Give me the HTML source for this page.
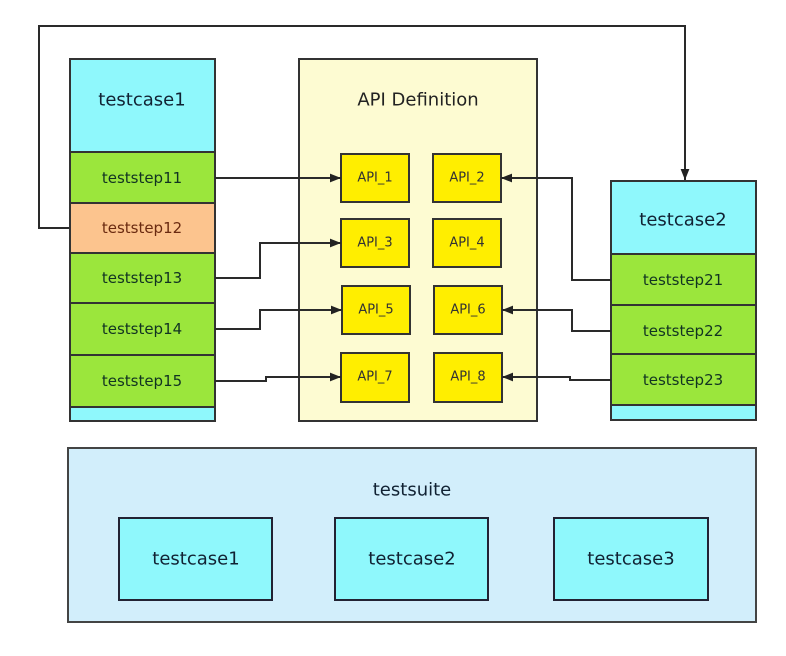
<!DOCTYPE html>
<html><head><meta charset="utf-8"><style>
html,body{margin:0;padding:0;background:#fff;width:786px;height:656px;overflow:hidden}
text{font-family:"DejaVu Sans","Liberation Sans",sans-serif;font-size:14px;text-anchor:middle;dominant-baseline:central}
</style></head><body>
<svg width="786" height="656" viewBox="0 0 786 656" xmlns="http://www.w3.org/2000/svg">
<defs><marker id="a" viewBox="0 0 10 10" refX="10" refY="5" markerWidth="13" markerHeight="11" orient="auto" markerUnits="userSpaceOnUse"><path d="M0,1 L10,5 L0,9 z" fill="#222"/></marker></defs>
<g stroke="#2a2a2a" stroke-width="2" fill="none">
<polyline points="70,228 39,228 39,26 685,26 685,180" marker-end="url(#a)"/>
</g>
<rect x="299" y="59" width="238" height="362" fill="#fdfbd2" stroke="#333" stroke-width="2"/>
<text x="418" y="100" style="font-size:18px" fill="#222">API Definition</text>
<g stroke="#333" stroke-width="2" fill="#ffee00">
<rect x="341" y="154" width="68" height="48"/><rect x="433" y="154" width="68" height="48"/>
<rect x="341" y="219" width="68" height="48"/><rect x="433" y="219" width="68" height="48"/>
<rect x="342" y="286" width="68" height="48"/><rect x="434" y="286" width="68" height="48"/>
<rect x="341" y="353" width="68" height="49"/><rect x="434" y="353" width="68" height="49"/>
</g>
<g fill="#333">
<text x="375" y="178" style="font-size:13px">API_1</text><text x="467" y="178" style="font-size:13px">API_2</text>
<text x="375" y="243" style="font-size:13px">API_3</text><text x="467" y="243" style="font-size:13px">API_4</text>
<text x="376" y="310" style="font-size:13px">API_5</text><text x="468" y="310" style="font-size:13px">API_6</text>
<text x="375" y="377" style="font-size:13px">API_7</text><text x="468" y="377" style="font-size:13px">API_8</text>
</g>
<g stroke="#333" stroke-width="2">
<rect x="70" y="59" width="145" height="362" fill="#8ff8fc"/>
<rect x="70" y="152" width="145" height="51" fill="#9be63c"/>
<rect x="70" y="203" width="145" height="50" fill="#fcc48e"/>
<rect x="70" y="253" width="145" height="50" fill="#9be63c"/>
<rect x="70" y="303" width="145" height="52" fill="#9be63c"/>
<rect x="70" y="355" width="145" height="52" fill="#9be63c"/>
</g>
<text x="142" y="100" style="font-size:18px" fill="#123">testcase1</text>
<text x="142" y="178" style="font-size:15px" fill="#132">teststep11</text>
<text x="142" y="228" style="font-size:15px" fill="#6a2a10">teststep12</text>
<text x="142" y="278" style="font-size:15px" fill="#132">teststep13</text>
<text x="142" y="329" style="font-size:15px" fill="#132">teststep14</text>
<text x="142" y="381" style="font-size:15px" fill="#132">teststep15</text>
<g stroke="#333" stroke-width="2">
<rect x="611" y="181" width="145" height="239" fill="#8ff8fc"/>
<rect x="611" y="254" width="145" height="51" fill="#9be63c"/>
<rect x="611" y="305" width="145" height="49" fill="#9be63c"/>
<rect x="611" y="354" width="145" height="51" fill="#9be63c"/>
</g>
<text x="683" y="220" style="font-size:18px" fill="#123">testcase2</text>
<text x="683" y="280" style="font-size:15px" fill="#132">teststep21</text>
<text x="683" y="331" style="font-size:15px" fill="#132">teststep22</text>
<text x="683" y="380" style="font-size:15px" fill="#132">teststep23</text>
<g stroke="#2a2a2a" stroke-width="2" fill="none">
<polyline points="215,178 341,178" marker-end="url(#a)"/>
<polyline points="215,278 260,278 260,243 341,243" marker-end="url(#a)"/>
<polyline points="215,329 260,329 260,310 342,310" marker-end="url(#a)"/>
<polyline points="215,381 266,381 266,377 341,377" marker-end="url(#a)"/>
<polyline points="611,280 572,280 572,178 501,178" marker-end="url(#a)"/>
<polyline points="611,331 572,331 572,310 502,310" marker-end="url(#a)"/>
<polyline points="611,380 570,380 570,377 502,377" marker-end="url(#a)"/>
</g>
<rect x="68" y="448" width="688" height="174" fill="#d2eefb" stroke="#444" stroke-width="2"/>
<text x="412" y="490" style="font-size:18px" fill="#123">testsuite</text>
<g stroke="#223" stroke-width="2" fill="#8ff8fc">
<rect x="119" y="518" width="153" height="82"/>
<rect x="335" y="518" width="153" height="82"/>
<rect x="554" y="518" width="154" height="82"/>
</g>
<text x="196" y="559" style="font-size:18px" fill="#123">testcase1</text>
<text x="412" y="559" style="font-size:18px" fill="#123">testcase2</text>
<text x="631" y="559" style="font-size:18px" fill="#123">testcase3</text>
</svg>
</body></html>
